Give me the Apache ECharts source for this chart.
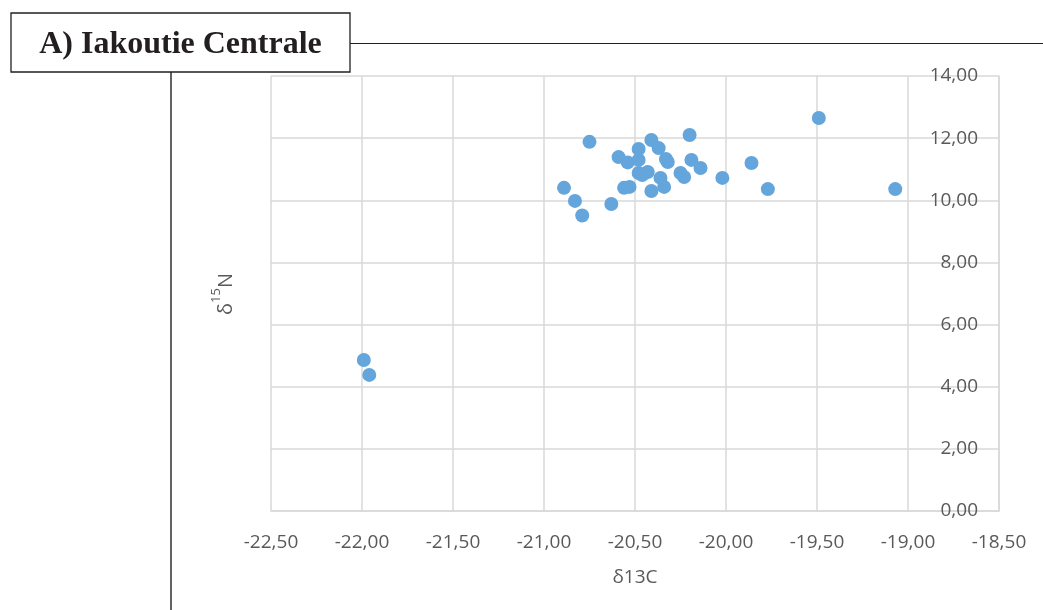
<!DOCTYPE html>
<html>
<head>
<meta charset="utf-8">
<script src="https://cdn.jsdelivr.net/npm/echarts@6/dist/echarts.min.js"></script>
<style>html,body{margin:0;padding:0;background:#fff;}#c{width:1043px;height:610px;}</style>
</head>
<body>
<div id="c"></div>
<script>
const titleText = 'A) Iakoutie Centrale';
const xName = 'δ13C';
const d13C = [-21.99,-21.96,-20.89,-20.83,-20.79,-20.75,-20.63,-20.59,-20.56,-20.53,-20.54,-20.48,-20.48,-20.48,-20.46,-20.43,-20.41,-20.41,-20.37,-20.36,-20.34,-20.33,-20.32,-20.25,-20.23,-20.20,-20.19,-20.14,-20.02,-19.86,-19.77,-19.49,-19.07];
const d15N = [4.86,4.38,10.40,9.98,9.51,11.88,9.88,11.39,10.40,10.43,11.22,11.65,11.30,10.88,10.81,10.91,11.94,10.30,11.68,10.72,10.43,11.33,11.23,10.88,10.75,12.10,11.30,11.04,10.72,11.20,10.36,12.65,10.36];

const points = d13C.map((x, i) => [x, d15N[i]]);
const fmt = v => v.toFixed(2).replace('.', ',');
const chart = echarts.init(document.getElementById('c'), null, {renderer: 'canvas'});
const labelFont = {fontFamily: 'Open Sans', fontSize: 19, color: '#595959'};
chart.setOption({
  animation: false,
  backgroundColor: '#ffffff',
  grid: {left: 271, right: 44, top: 76, bottom: 99},
  xAxis: {
    type: 'value', min: -22.5, max: -18.5, interval: 0.5,
    name: xName, nameLocation: 'middle', nameGap: 57,
    nameTextStyle: {fontFamily: 'Open Sans', fontSize: 19, color: '#595959'},
    axisLine: {show: true, onZero: false, lineStyle: {color: '#d9d9d9', width: 1.5}},
    axisTick: {show: false},
    axisLabel: Object.assign({margin: 22, formatter: fmt}, labelFont),
    splitLine: {show: true, lineStyle: {color: '#d9d9d9', width: 1.5}}
  },
  yAxis: {
    type: 'value', min: 0, max: 14, interval: 2, position: 'right',
    axisLine: {show: true, onZero: false, lineStyle: {color: '#d9d9d9', width: 1.5}},
    axisTick: {show: false},
    axisLabel: Object.assign({inside: true, margin: 21, formatter: fmt}, labelFont),
    splitLine: {show: true, lineStyle: {color: '#d9d9d9', width: 1.5}}
  },
  series: [{
    type: 'scatter', data: points, symbol: 'circle', symbolSize: 14,
    itemStyle: {color: '#64a5dc', opacity: 1}
  }],
  graphic: [
    {type: 'line', shape: {x1: 350, y1: 43.5, x2: 1043, y2: 43.5}, style: {stroke: '#231f20', lineWidth: 1.2}},
    {type: 'line', shape: {x1: 171, y1: 72, x2: 171, y2: 610}, style: {stroke: '#231f20', lineWidth: 1.4}},
    {type: 'rect', shape: {x: 11, y: 13, width: 339, height: 59}, style: {fill: '#ffffff', stroke: '#231f20', lineWidth: 1.3}},
    {type: 'text', x: 180.5, y: 45, style: {text: titleText, fontFamily: 'Liberation Serif', fontWeight: 'bold', fontSize: 32, fill: '#231f20', align: 'center', verticalAlign: 'middle'}},
    {type: 'text', x: 223, y: 294, rotation: Math.PI / 2,
     style: {text: '{a|δ}{s|15}{a|N}', align: 'center', verticalAlign: 'middle',
       rich: {a: {fontFamily: 'Open Sans', fontSize: 20, fill: '#595959', lineHeight: 26, verticalAlign: 'bottom'},
              s: {fontFamily: 'Open Sans', fontSize: 13, fill: '#595959', lineHeight: 26, verticalAlign: 'top'}}}}
  ]
});
</script>
</body>
</html>
